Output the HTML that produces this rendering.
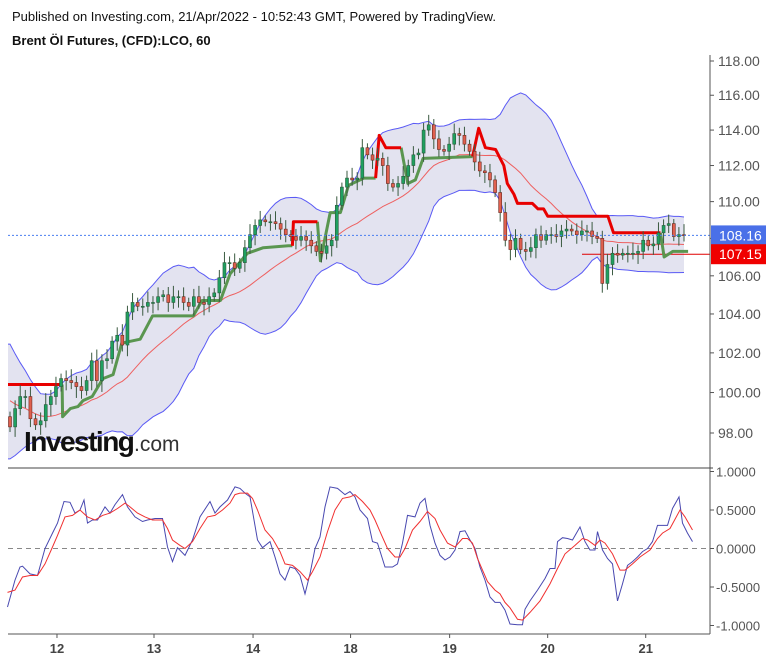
<!DOCTYPE html>
<html><head><meta charset="utf-8"><style>
body{margin:0;background:#fff;width:776px;height:663px;overflow:hidden;font-family:"Liberation Sans",sans-serif}
svg{position:absolute;left:0;top:0}
text{font-family:"Liberation Sans",sans-serif}
</style></head><body>
<svg id="c" width="776" height="663">
<text x="12" y="21" font-size="13" fill="#111">Published on Investing.com, 21/Apr/2022 - 10:52:43 GMT, Powered by TradingView.</text>
<text x="12" y="45" font-size="13" font-weight="bold" fill="#111">Brent Öl Futures, (CFD):LCO, 60</text>
</svg>
<script>
// ---- data ----
const preCloses=[102.5,102.2,101.8,101.5,101.0,100.6,100.0,99.6,99.2,98.8,98.5,98.3,98.6,98.4,98.2,98.5,98.9,98.6,98.4];
const closes=[98.3,99.2,99.8,99.8,98.7,98.4,98.6,99.4,99.8,100.3,100.7,100.6,100.5,100.3,100.1,100.6,101.6,100.6,101.6,101.7,102.6,102.9,102.4,104.1,104.6,104.4,104.4,104.6,104.6,104.9,105.0,104.6,104.9,104.9,104.6,104.4,104.9,104.6,104.5,104.9,105.1,105.9,106.7,106.7,106.4,106.7,107.5,108.2,108.7,109.0,108.9,108.9,108.8,108.5,108.2,108.1,107.9,108.1,107.9,107.6,107.3,107.2,107.6,107.9,109.8,110.8,111.3,111.2,111.3,113.0,112.6,112.3,112.4,112.0,111.0,110.8,111.0,111.4,112.0,112.6,112.7,114.0,114.3,113.5,112.9,112.8,113.2,113.8,113.7,113.2,112.8,112.2,111.7,111.6,111.2,110.5,109.4,107.9,107.4,108.0,107.4,107.3,107.5,108.2,107.9,108.2,108.2,108.1,108.4,108.5,108.4,108.2,108.4,108.4,108.1,108.0,105.6,106.6,107.2,107.1,107.2,107.2,107.2,107.3,107.9,107.6,107.7,108.3,108.7,108.8,108.1,108.2,108.16];
const openFirst=98.8;
const priceTicks=[118,116,114,112,110,108,106,104,102,100,98];
const dayLabels=["12","13","14","18","19","20","21"];
const dayBarIdx=[9.2,28.2,47.6,66.7,86.1,105.3,124.5];
const redStops=[[[-0.4,100.4],[10.2,100.4]],[[55.3,107.6],[55.5,108.9],[60.2,108.9]],[[71.6,111.3],[72.3,113.7],[73.6,113.0],[76.6,113.0]],[[90.6,112.5],[91.8,114.1],[93.1,113.0],[95.1,112.9],[96.7,112.0],[97.4,111.0],[98.7,110.4],[99.4,109.9],[102.3,109.9],[103.4,109.6],[104.5,109.6],[105.3,109.2],[117.1,109.2],[118.2,108.3],[127.4,108.3]]];
const greenStops=[[[10.2,100.4],[10.3,98.8],[11.8,99.2],[13.3,99.3],[14.3,99.6],[16.1,99.8],[18.2,100.7],[20.2,100.9],[21.9,102.5],[25.5,102.7],[27.9,103.9],[35.9,103.9],[37.6,104.7],[41.2,104.7],[43.1,106.1],[46.5,107.2],[49.6,107.5],[54.5,107.6],[55.3,107.6]],[[60.2,108.9],[60.8,106.8],[62.7,109.4],[64.7,109.4],[66.3,110.9],[69.3,111.3],[71.6,111.3]],[[76.6,113.0],[77.9,111.0],[79.4,111.2],[80.9,112.4],[90.6,112.5]],[[127.4,108.3],[128.1,107.0],[129.8,107.3],[132.8,107.3]]];
const lastPrice=108.16, refPrice=107.15;
const oscTicks=[1,0.5,0,-0.5,-1];
const oscTickLabels=["1.0000","0.5000","0.0000","-0.5000","-1.0000"];
const blueT=[15,30,40,45,60,75,90,105,115,128,140,150,160,168,175,185,195,210,220,230,245,255,270,285,295,310,325,335,345,355,370,385,400,420,430,440,455,470,480,490,500,515,525,540,550,560,570,580,590,600,610,620,630,640,650,660,675,690,700,710,720,735,745,755,770,785,795,805,815,830,840,850,860,870,880,890,900,910,920,930,940,950,960,970,980,990,1000,1010,1020,1035,1045,1050,1060,1075,1090,1100,1110,1115,1125,1135,1145,1160,1170,1180,1190,1195,1205,1215,1225,1235,1245,1255,1265,1275,1285,1295,1305,1315,1325,1335,1345,1358,1365,1375,1385];
const blueV=[-0.76,-0.41,-0.24,-0.23,-0.33,-0.35,0.0,0.20,0.33,0.61,0.60,0.46,0.50,0.63,0.33,0.37,0.37,0.54,0.46,0.57,0.70,0.54,0.41,0.35,0.37,0.39,0.39,0.02,-0.17,0.01,-0.09,0.11,0.41,0.61,0.46,0.54,0.63,0.80,0.78,0.72,0.67,0.11,0.01,0.09,-0.11,-0.33,-0.41,-0.24,-0.26,-0.35,-0.59,-0.33,0.0,0.15,0.54,0.80,0.78,0.70,0.74,0.67,0.50,0.39,0.09,0.07,-0.24,-0.24,-0.20,0.07,0.43,0.41,0.59,0.65,0.30,0.07,-0.09,-0.15,-0.11,-0.02,0.22,0.23,0.11,0.0,-0.24,-0.41,-0.63,-0.70,-0.70,-0.80,-0.98,-0.99,-0.99,-0.79,-0.68,-0.54,-0.39,-0.26,-0.26,0.09,0.14,0.13,0.11,0.28,0.09,-0.02,-0.02,0.22,-0.02,-0.13,-0.20,-0.68,-0.46,-0.22,-0.17,-0.11,-0.04,0.0,0.09,0.30,0.30,0.30,0.52,0.67,0.33,0.20,0.09];
const redT=[15,30,45,60,75,90,105,115,130,145,160,175,190,205,220,235,250,260,275,290,305,325,335,345,360,370,385,400,415,430,445,460,470,480,495,505,515,530,545,560,570,585,600,615,625,640,655,670,685,700,710,725,740,750,760,775,790,800,810,825,840,855,870,880,895,910,925,935,945,955,965,975,990,1000,1010,1020,1035,1045,1060,1080,1100,1115,1130,1150,1165,1175,1190,1200,1210,1225,1240,1250,1265,1280,1300,1315,1325,1340,1360,1370,1385];
const redV=[-0.57,-0.54,-0.37,-0.35,-0.35,-0.20,0.02,0.17,0.41,0.43,0.50,0.41,0.37,0.43,0.46,0.52,0.59,0.54,0.46,0.41,0.37,0.37,0.26,0.11,0.04,0.0,0.09,0.26,0.41,0.43,0.50,0.59,0.70,0.72,0.72,0.65,0.50,0.24,0.13,-0.04,-0.20,-0.22,-0.30,-0.41,-0.30,-0.11,0.22,0.50,0.65,0.67,0.70,0.61,0.50,0.37,0.22,0.0,-0.11,-0.11,0.0,0.24,0.35,0.48,0.39,0.24,0.07,0.02,0.13,0.13,0.07,-0.13,-0.28,-0.43,-0.54,-0.59,-0.70,-0.77,-0.92,-0.93,-0.83,-0.68,-0.46,-0.26,-0.07,0.04,0.13,0.11,0.04,0.11,0.07,-0.07,-0.28,-0.28,-0.20,-0.11,-0.02,0.13,0.20,0.26,0.50,0.41,0.24];

// ---- scales ----
const NS="http://www.w3.org/2000/svg", svg=document.getElementById('c');
const PL=8, PR=710, n=closes.length, step=(684-10)/(n-1);
const xb=i=>10+i*step;
const L118=Math.log(118), K=372/(Math.log(118)-Math.log(98));
const yp=p=>61+K*(L118-Math.log(p));
const yo=v=>548.5-v*77;
const xo=t=>t/2;
function el(tag,attrs,parent){const e=document.createElementNS(NS,tag);for(const k in attrs)e.setAttribute(k,attrs[k]);(parent||svg).appendChild(e);return e;}
const pts=a=>a.map(p=>p[0].toFixed(1)+','+p[1].toFixed(1)).join(' ');

const defs=el('defs',{});const cp=el('clipPath',{id:'pc'},defs);el('rect',{x:PL,y:52,width:PR-PL,height:416},cp);
const gMain=el('g',{'clip-path':'url(#pc)'});



// bollinger (uses pre-history for warm-up)
const all=preCloses.concat(closes), off=preCloses.length;
const P=20, mid=[],up=[],lo=[];
for(let i=0;i<n;i++){const j=i+off;const w=all.slice(Math.max(0,j-P+1),j+1);const m=w.reduce((a,b)=>a+b,0)/w.length;const sd=Math.sqrt(w.reduce((a,b)=>a+(b-m)*(b-m),0)/w.length);const s=Math.max(sd,0.55);mid.push(m);up.push(m+2*s);lo.push(m-2*s);}
const upPts=up.map((v,i)=>[xb(i),yp(v)]), loPts=lo.map((v,i)=>[xb(i),yp(v)]);
upPts.unshift([PL,upPts[0][1]]);loPts.unshift([PL,loPts[0][1]]);
const band=el('polygon',{points:pts(upPts.concat(loPts.slice().reverse())),fill:'#e3e3f0'},gMain);


const bu=el('polyline',{points:pts(upPts),fill:'none',stroke:'#5a5af5','stroke-width':1},gMain);


const bl=el('polyline',{points:pts(loPts),fill:'none',stroke:'#5a5af5','stroke-width':1},gMain);



const rl=el('line',{x1:582,x2:PR,y1:yp(refPrice),y2:yp(refPrice),stroke:'#e00000','stroke-width':1},gMain);



const sma=el('polyline',{points:pts(mid.map((v,i)=>[xb(i),yp(v)])),fill:'none',stroke:'#ee6060','stroke-width':1},gMain);



greenStops.forEach(s=>{const l=el('polyline',{points:pts(s.map(p=>[xb(p[0]),yp(p[1])])),fill:'none',stroke:'#5a9650','stroke-width':3,'stroke-linejoin':'round'},gMain);

});
redStops.forEach(s=>{const l=el('polyline',{points:pts(s.map(p=>[xb(p[0]),yp(p[1])])),fill:'none',stroke:'#e80000','stroke-width':3,'stroke-linejoin':'round'},gMain);

});

for(let i=0;i<n;i++){const o=i?closes[i-1]:openFirst,c=closes[i];const upc=c>=o;
const hi=Math.max(o,c)+0.25+((i*7)%5)*0.08, lw=Math.min(o,c)-0.25-((i*3)%5)*0.08;
const x=xb(i);const g=el('g',{},gMain);


el('line',{x1:x,x2:x,y1:yp(hi),y2:yp(lw),stroke:'#3a5a40','stroke-width':1},g);
const y1=yp(Math.max(o,c)),y2=yp(Math.min(o,c));
el('rect',{x:x-1.5,y:y1,width:3,height:Math.max(1,y2-y1),fill:upc?'#1fa060':'#e0604f',stroke:upc?'#2a5a3a':'#6a2a20','stroke-width':0.6},g);}

const lp=el('line',{x1:PL,x2:PR,y1:yp(lastPrice),y2:yp(lastPrice),stroke:'#4a7ef0','stroke-width':1,'stroke-dasharray':'2,2'});



const wm=el('text',{x:24,y:451,'font-size':28,'font-weight':'bold',fill:'#111','letter-spacing':'-1.5'});wm.textContent='Investing';


const wc=el('text',{x:134,y:451,'font-size':21,fill:'#333'});wc.textContent='.com';



el('line',{x1:PR,x2:PR,y1:55,y2:634,stroke:'#555','stroke-width':1});
el('line',{x1:PL,x2:PR+3,y1:468,y2:468,stroke:'#444','stroke-width':1});
el('line',{x1:PL,x2:PR,y1:634,y2:634,stroke:'#555','stroke-width':1});
priceTicks.forEach(p=>{const y=yp(p);el('line',{x1:PR,x2:PR+4,y1:y,y2:y,stroke:'#555'});
const t=el('text',{x:718,y:y+5,'font-size':14,fill:'#555'});t.textContent=p.toFixed(2);

});
[[lastPrice,'#4a70e8'],[refPrice,'#f00000']].forEach(([p,c])=>{const y=yp(p);
const r=el('rect',{x:711,y:y-10,width:55,height:20,fill:c});


const t=el('text',{x:719,y:y+5,'font-size':14,fill:'#fff'});t.textContent=p.toFixed(2);

});

const zl=el('line',{x1:PL,x2:PR,y1:yo(0),y2:yo(0),stroke:'#888','stroke-dasharray':'5,4'});


oscTicks.forEach((v,k)=>{const y=yo(v);el('line',{x1:PR,x2:PR+4,y1:y,y2:y,stroke:'#555'});
const t=el('text',{x:716,y:y+5,'font-size':13,fill:'#555'});t.textContent=oscTickLabels[k];

});
const ob=el('polyline',{points:pts(blueT.map((t,i)=>[xo(t),yo(blueV[i])])),fill:'none',stroke:'#4848b0','stroke-width':1});


const orr=el('polyline',{points:pts(redT.map((t,i)=>[xo(t),yo(redV[i])])),fill:'none',stroke:'#f03030','stroke-width':1});



dayLabels.forEach((d,k)=>{const x=xb(dayBarIdx[k]);el('line',{x1:x,x2:x,y1:634,y2:638,stroke:'#555'});
const t=el('text',{x:x,y:653,'font-size':13,'font-weight':'bold',fill:'#444','text-anchor':'middle'});t.textContent=d;

});
</script>
</body></html>
